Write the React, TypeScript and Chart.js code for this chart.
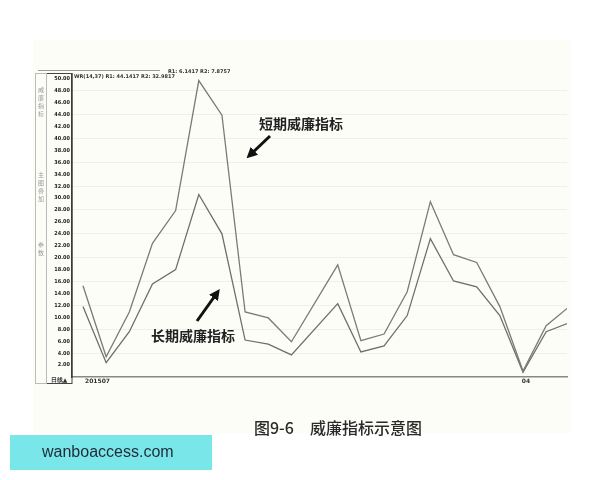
import React, { useEffect, useRef } from "react";
import { Chart, registerables } from "chart.js";

Chart.register(...registerables);

// ---- data ----
const sessions = [0, 1, 2, 3, 4, 5, 6, 7, 8, 9, 10, 11, 12, 13, 14, 15, 16, 17, 18, 19, 20, 21];
const shortWR = [15.3, 3.4, 10.9, 22.4, 27.9, 49.7, 43.9, 10.9, 9.9, 5.9, null, 18.8, 6.1, 7.2, 14.3, 29.4, 20.5, 19.2, 11.8, 1.0, 8.6, 11.8];
const longWR = [11.8, 2.4, 7.6, 15.6, 18.0, 30.6, 24.0, 6.2, 5.5, 3.7, null, 12.3, 4.2, 5.2, 10.3, 23.2, 16.1, 15.1, 10.3, 0.8, 7.6, 9.1];
const yTicks = [0, 2, 4, 6, 8, 10, 12, 14, 16, 18, 20, 22, 24, 26, 28, 30, 32, 34, 36, 38, 40, 42, 44, 46, 48, 50];
const xTickAt = [0, 19];
const xTickLabels = ["201507", "04"];
const periodLabel = "日线▲";
const headerText1 = "WR(14,37) R1: 44.1417 R2: 32.9817";
const headerText2 = "R1: 6.1417 R2: 7.8757";
const sideLabels = ["威廉指标", "主图叠加", "参数"];
const shortLabel = "短期威廉指标";
const longLabel = "长期威廉指标";
const caption = "图9-6　威廉指标示意图";
const watermark = "wanboaccess.com";

const overlayPlugin = {
  id: "overlayText",
  beforeDraw(chart: any) {
    const ctx = chart.ctx as CanvasRenderingContext2D;
    ctx.save();
    ctx.fillStyle = "#fdfdf8";
    ctx.fillRect(33, 40, 537, 393);
    ctx.restore();
  },
  afterDraw(chart: any) {
    const ctx = chart.ctx as CanvasRenderingContext2D;
    const xs = chart.scales.x;
    const area = chart.chartArea;
    ctx.save();
    // header line
    ctx.strokeStyle = "#999";
    ctx.lineWidth = 1;
    ctx.beginPath();
    ctx.moveTo(38, 70.5);
    ctx.lineTo(160, 70.5);
    ctx.stroke();
    // left label box
    ctx.strokeStyle = "#444";
    ctx.strokeRect(46.5, 73.5, area.left - 46.5, 310);
    ctx.strokeStyle = "#bbb";
    ctx.strokeRect(35.5, 73.5, 11, 310);
    // side vertical labels
    ctx.fillStyle = "#999";
    ctx.font = "6px 'Noto Sans CJK SC'";
    ctx.textAlign = "center";
    ctx.textBaseline = "middle";
    const sideY = [90, 175, 245];
    sideLabels.forEach((s, i) => {
      Array.from(s).forEach((ch, j) => {
        ctx.fillText(ch, 41, sideY[i] + j * 8);
      });
    });
    // header texts
    ctx.fillStyle = "#333";
    ctx.font = "bold 5px 'DejaVu Sans'";
    ctx.textAlign = "left";
    ctx.fillText(headerText1, 74, 77);
    ctx.fillText(headerText2, 168, 72);
    // bottom labels
    ctx.font = "bold 6px 'DejaVu Sans'";
    ctx.textBaseline = "middle";
    ctx.textAlign = "center";
    ctx.fillText(periodLabel, 59, 380);
    xTickAt.forEach((v, i) => {
      const px = xs.getPixelForValue(v);
      ctx.textAlign = i === 0 ? "left" : "center";
      ctx.fillText(xTickLabels[i], i === 0 ? px + 2 : px + 3, 381);
    });
    ctx.restore();
  },
};

export default function App() {
  const ref = useRef<HTMLCanvasElement | null>(null);
  useEffect(() => {
    if (!ref.current) return;
    const chart = new Chart(ref.current, {
      type: "line",
      data: {
        datasets: [
          {
            label: shortLabel,
            data: sessions.map((s, i) => ({ x: s, y: shortWR[i] })) as any,
            borderColor: "#7a7a7a",
            borderWidth: 1.3,
            pointRadius: 0,
            tension: 0,
            spanGaps: true,
          },
          {
            label: longLabel,
            data: sessions.map((s, i) => ({ x: s, y: longWR[i] })) as any,
            borderColor: "#6e6e6e",
            borderWidth: 1.3,
            pointRadius: 0,
            tension: 0,
            spanGaps: true,
          },
        ],
      },
      options: {
        animation: false,
        responsive: false,
        events: [],
        layout: { padding: { left: 47, right: 33, top: 74, bottom: 103 } },
        plugins: { legend: { display: false }, tooltip: { enabled: false } },
        scales: {
          x: {
            type: "linear",
            min: -0.475,
            max: 20.9,
            grid: { display: false },
            ticks: { display: false },
            border: { display: true, color: "#888", width: 1.5 },
            afterFit: (s: any) => {
              s.height = 0;
            },
          },
          y: {
            min: 0,
            max: 50.8,
            afterBuildTicks: (axis: any) => {
              axis.ticks = yTicks.map((v) => ({ value: v }));
            },
            afterFit: (s: any) => {
              s.width = 25;
            },
            ticks: {
              color: "#222",
              font: { family: "'DejaVu Sans Condensed', 'DejaVu Sans'", size: 5.5, weight: "bold" },
              padding: 2,
              callback: (v: any) => (Number(v) === 0 ? "" : Number(v).toFixed(2)),
            },
            grid: {
              drawTicks: false,
              color: (c: any) =>
                c.tick && c.tick.value > 0 && c.tick.value % 4 === 0 ? "rgba(0,0,0,0.05)" : "rgba(0,0,0,0)",
            },
            border: { display: true, color: "#333", width: 1.5 },
          },
        },
      },
      plugins: [overlayPlugin],
    });
    return () => chart.destroy();
  }, []);

  const cjk = "'Noto Sans CJK SC', 'Noto Sans', sans-serif";
  return (
    <div style={{ position: "absolute", left: 0, top: 0, width: 600, height: 480, background: "#fff", overflow: "hidden" }}>
      <canvas ref={ref} width={600} height={480} style={{ position: "absolute", left: 0, top: 0, width: 600, height: 480 }} />
      <svg width={600} height={480} style={{ position: "absolute", left: 0, top: 0 }}>
        <defs>
          <marker id="ah" markerWidth="3.6" markerHeight="3.6" refX="2" refY="1.8" orient="auto" markerUnits="strokeWidth">
            <path d="M0,0 L3.6,1.8 L0,3.6 Z" fill="#111" />
          </marker>
        </defs>
        <line x1={270} y1={136} x2={250} y2={155} stroke="#111" strokeWidth={3} markerEnd="url(#ah)" />
        <line x1={197} y1={321} x2={217} y2={293} stroke="#111" strokeWidth={3} markerEnd="url(#ah)" />
      </svg>
      <div style={{ position: "absolute", left: 259, top: 113, font: `700 14px ${cjk}`, color: "#222", whiteSpace: "nowrap", lineHeight: "20px" }}>
        {shortLabel}
      </div>
      <div style={{ position: "absolute", left: 151, top: 325, font: `700 14px ${cjk}`, color: "#222", whiteSpace: "nowrap", lineHeight: "20px" }}>
        {longLabel}
      </div>
      <div style={{ position: "absolute", left: 254, top: 416, font: `500 16px ${cjk}`, color: "#2a2a2a", whiteSpace: "nowrap", lineHeight: "22px" }}>
        {caption}
      </div>
      <div style={{ position: "absolute", left: 10, top: 435, width: 202, height: 35, background: "#79e7ea" }} />
      <div style={{ position: "absolute", left: 42, top: 442, font: `400 16px 'Liberation Sans', Arial, sans-serif`, color: "#1f2a36", whiteSpace: "nowrap", lineHeight: "20px" }}>
        {watermark}
      </div>
    </div>
  );
}
